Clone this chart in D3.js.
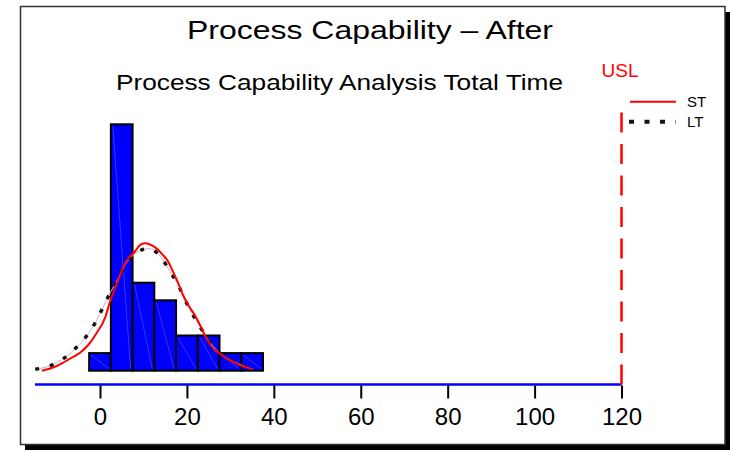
<html>
<head>
<meta charset="utf-8">
<style>
  body { margin:0; background:#fff; }
  svg text { font-family:"Liberation Sans", Arial, sans-serif; }
</style>
</head>
<body>
<svg id="chart"></svg>
<script src="https://d3js.org/d3.v7.min.js"></script>
<script>

// histogram of total time (bins of width 5, centred on 0,5,...,35)
var binStarts = [-2.5, 2.5, 7.5, 12.5, 17.5, 22.5, 27.5, 32.5];
var binCounts = [1, 14, 5, 4, 2, 2, 1, 1];
var binWidth = 5;

// short term fitted curve (red)
var stX = [-13.4,-11.1,-8.8,-6.5,-4.6,-2.7,-0.8,1.2,2.3,4.2,5.4,6.5,8.0,9.2,10.3,11.5,13.0,
           14.5,15.7,16.8,18.0,19.1,20.3,21.8,23.0,24.1,25.2,26.4,27.5,29.1,30.6,32.1,33.7,35.2];
var stY = [0,0.15,0.42,0.74,1.02,1.46,2.13,3.03,3.92,5.15,5.91,6.39,6.76,7.14,7.24,7.17,6.95,
           6.57,6.19,5.63,4.97,4.30,3.73,3.16,2.60,2.03,1.56,1.18,0.99,0.70,0.51,0.32,0.19,0.08];

// long term fitted curve (black dotted)
var ltX = [-14.9,-11.1,-8.0,-5.4,-3.1,-0.9,0.6,2.3,4.0,5.7,8.2,11.2,14.2,16.1,18.0,19.4,21.0,
           23.0,24.9,27.4,30.2,33.5];
var ltY = [0.08,0.32,0.76,1.33,1.97,2.81,3.55,4.40,5.15,5.99,6.67,6.94,6.39,5.63,4.87,4.11,3.35,
           2.50,1.76,1.03,0.59,0.23];

var xTicks = [0, 20, 40, 60, 80, 100, 120];
var usl = 120;

var titleText = "Process Capability \u2013 After";
var subTitleText = "Process Capability Analysis Total Time";

var drawChart = function(target)
{
    var screen = {width:730, height:450};

    var svg = d3.select(target)
        .attr("width", screen.width)
        .attr("height", screen.height);

    //frame with drop shadow
    svg.append("rect")
        .attr("x", 25).attr("y", 12)
        .attr("width", 705).attr("height", 438)
        .attr("fill", "black");
    svg.append("rect")
        .attr("x", 20.5).attr("y", 6.5)
        .attr("width", 704.5).attr("height", 438)
        .attr("fill", "white")
        .attr("stroke", "#333")
        .attr("stroke-width", 1.5);

    var xScale = d3.scaleLinear()
        .domain([0, 120])
        .range([100, 621.5]);

    var yScale = d3.scaleLinear()
        .domain([0, 14])
        .range([370.7, 124.3]);

    //titles
    svg.append("text")
        .attr("x", 370).attr("y", 39)
        .attr("text-anchor", "middle")
        .attr("font-size", 26)
        .attr("textLength", 366)
        .attr("lengthAdjust", "spacingAndGlyphs")
        .text(titleText);

    svg.append("text")
        .attr("x", 339.5).attr("y", 90)
        .attr("text-anchor", "middle")
        .attr("font-size", 22)
        .attr("textLength", 447)
        .attr("lengthAdjust", "spacingAndGlyphs")
        .text(subTitleText);

    //bars
    var bars = svg.append("g").classed("bars", true);
    var data = binStarts.map(function(s, i) { return {start:s, count:binCounts[i]}; });

    bars.selectAll("rect")
        .data(data)
        .enter()
        .append("rect")
        .attr("x", function(d) { return xScale(d.start); })
        .attr("y", function(d) { return yScale(d.count); })
        .attr("width", function(d) { return xScale(d.start + binWidth) - xScale(d.start); })
        .attr("height", function(d) { return yScale(0) - yScale(d.count); })
        .attr("fill", "#0000ff")
        .attr("stroke", "black")
        .attr("stroke-width", 2);

    //faint diagonal in each bar
    bars.selectAll("line")
        .data(data)
        .enter()
        .append("line")
        .attr("x1", function(d) { return xScale(d.start) + 2; })
        .attr("y1", function(d) { return yScale(d.count) + 2; })
        .attr("x2", function(d) { return xScale(d.start + binWidth) - 2; })
        .attr("y2", function(d) { return yScale(0) - 2; })
        .attr("stroke", "#7f7fff")
        .attr("stroke-width", 0.6)
        .attr("opacity", 0.7);

    var line = d3.line()
        .x(function(d) { return xScale(d[0]); })
        .y(function(d) { return yScale(d[1]); })
        .curve(d3.curveMonotoneX);

    var ltPts = ltX.map(function(x, i) { return [x, ltY[i]]; });
    var stPts = stX.map(function(x, i) { return [x, stY[i]]; });

    //long term curve
    svg.append("path")
        .attr("d", line(ltPts))
        .attr("fill", "none")
        .attr("stroke", "#bbb")
        .attr("stroke-width", 1);
    svg.append("path")
        .attr("d", line(ltPts))
        .attr("fill", "none")
        .attr("stroke", "#151515")
        .attr("stroke-width", 3.5)
        .attr("stroke-dasharray", "4,11");

    //short term curve
    svg.append("path")
        .attr("d", line(stPts))
        .attr("fill", "none")
        .attr("stroke", "#ff0000")
        .attr("stroke-width", 2);

    //axis
    var axisY = 384.5;
    svg.append("line")
        .attr("x1", 35).attr("x2", xScale(usl))
        .attr("y1", axisY).attr("y2", axisY)
        .attr("stroke", "#0000ff")
        .attr("stroke-width", 2.5);

    var xAxis = d3.axisBottom(xScale)
        .tickValues(xTicks)
        .tickSize(13)
        .tickPadding(9);

    var axisG = svg.append("g")
        .attr("transform", "translate(0," + (axisY + 1) + ")")
        .call(xAxis);
    axisG.select(".domain").remove();
    axisG.selectAll("line").attr("stroke", "black").attr("stroke-width", 2);
    axisG.selectAll("text")
        .attr("font-size", 24)
        .attr("font-family", "'Liberation Sans', Arial, sans-serif")
        .attr("fill", "black");

    //USL
    svg.append("line")
        .attr("x1", xScale(usl)).attr("x2", xScale(usl))
        .attr("y1", axisY).attr("y2", 101)
        .attr("stroke", "#ff0000")
        .attr("stroke-width", 2.5)
        .attr("stroke-dasharray", "20,11.5");

    svg.append("text")
        .attr("x", 620).attr("y", 77)
        .attr("text-anchor", "middle")
        .attr("font-size", 19)
        .attr("fill", "#ff0000")
        .text("USL");

    //legend
    svg.append("line")
        .attr("x1", 630).attr("x2", 676)
        .attr("y1", 101.7).attr("y2", 101.7)
        .attr("stroke", "#ff0000")
        .attr("stroke-width", 2);
    svg.append("text")
        .attr("x", 687).attr("y", 106.5)
        .attr("font-size", 15)
        .text("ST");

    svg.append("line")
        .attr("x1", 629).attr("x2", 676)
        .attr("y1", 121.7).attr("y2", 121.7)
        .attr("stroke", "#151515")
        .attr("stroke-width", 4)
        .attr("stroke-dasharray", "5,10.5");
    svg.append("text")
        .attr("x", 687).attr("y", 127)
        .attr("font-size", 15)
        .text("LT");
}

drawChart("#chart");

</script>
</body>
</html>
